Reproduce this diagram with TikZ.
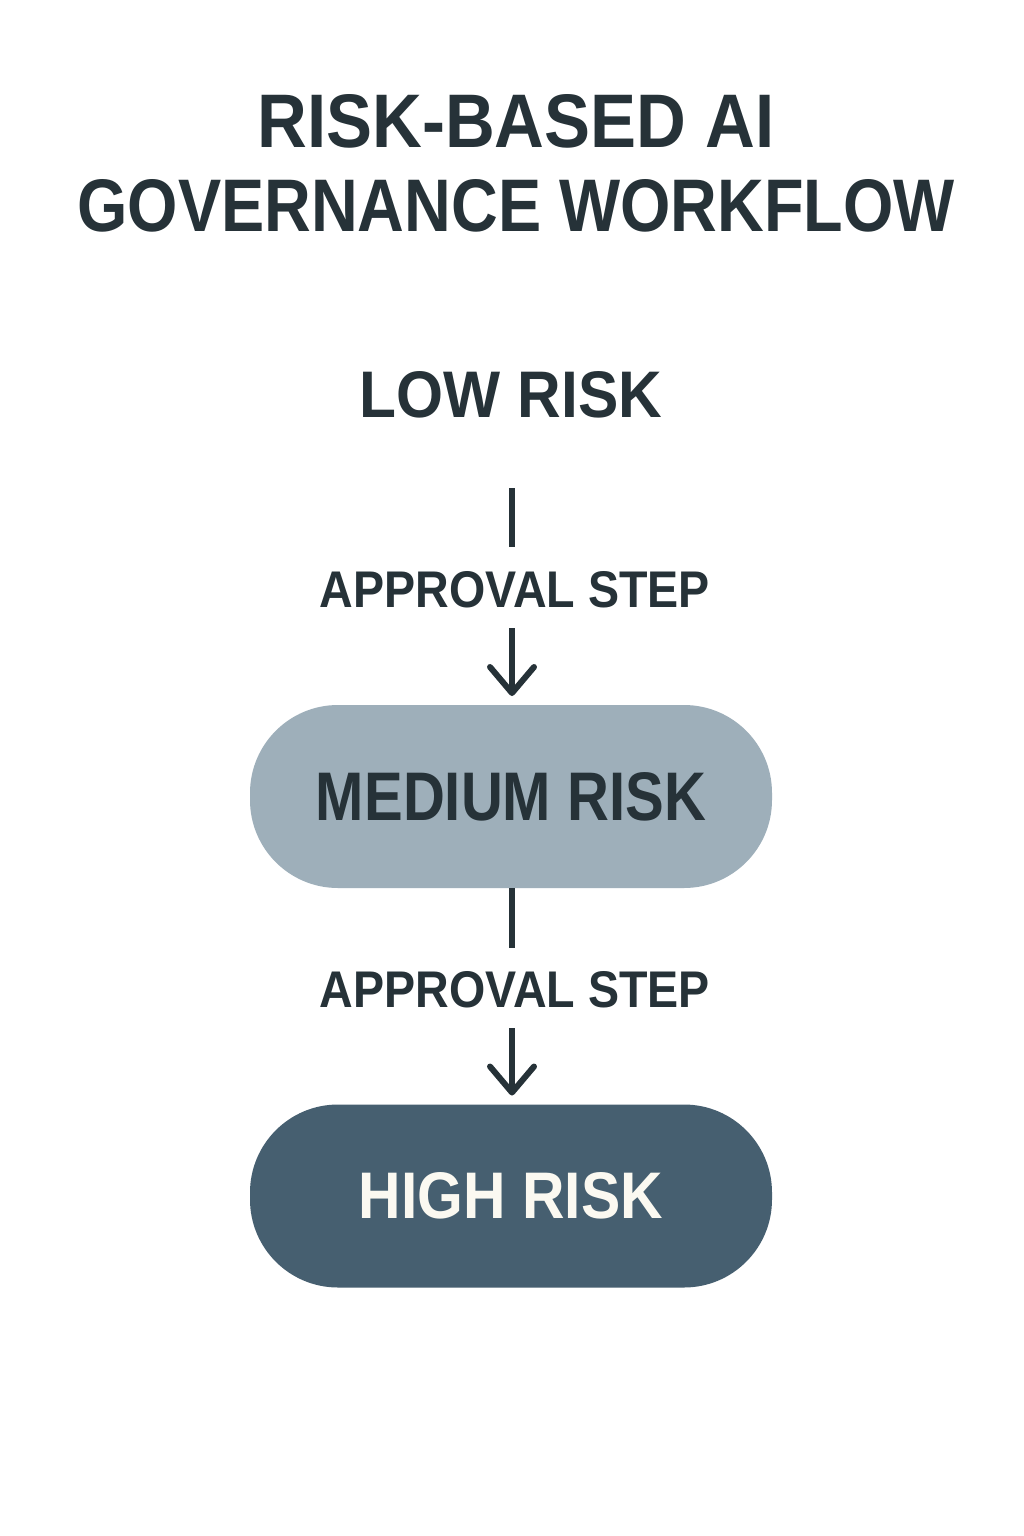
\documentclass[tikz,border=0pt]{standalone}
\usepackage{fontspec}
\usepackage{graphicx}
\setmainfont{Liberation Sans}
\usetikzlibrary{arrows.meta}
\definecolor{darktext}{HTML}{263238}
\definecolor{medfill}{HTML}{9EAFBA}
\definecolor{highfill}{HTML}{465F70}
\definecolor{hightext}{HTML}{FBF9F1}
\begin{document}
\begin{tikzpicture}[x=1pt,y=-1pt,
  lbl/.style={inner sep=0pt,outer sep=0pt,text=darktext,font=\bfseries},
  riskbox/.style={draw=none,rounded corners=88pt,minimum width=522pt,minimum height=183pt,inner sep=0pt,outer sep=0pt,font=\bfseries},
  conn/.style={draw=darktext,line width=6pt},
  arr/.style={conn,-{Straight Barb[length=26pt,width=44pt,round]}}
]
\useasboundingbox[fill=white] (0,0) rectangle (1024,1536);
\node[lbl] (t1) at (516,121) {\resizebox{517pt}{53pt}{RISK-BASED AI}};
\node[lbl] (t2) at (516,206) {\resizebox{877pt}{52pt}{GOVERNANCE WORKFLOW}};
\node[lbl] (low) at (511,395) {\resizebox{302pt}{46pt}{LOW RISK}};
\node[lbl] (ap1) at (515,590) {\resizebox{390pt}{36pt}{APPROVAL STEP}};
\node[riskbox,fill=medfill,text=darktext] (med) at (511,796.5) {\resizebox{390pt}{48pt}{MEDIUM RISK}};
\node[lbl] (ap2) at (515,990) {\resizebox{390pt}{36pt}{APPROVAL STEP}};
\node[riskbox,fill=highfill,text=hightext] (high) at (511,1196) {\resizebox{304pt}{46pt}{HIGH RISK}};
\draw[conn,shorten <=70pt,shorten >=25pt] (low.south -| 512,0) -- (ap1.north -| 512,0);
\draw[arr,shorten <=20pt,shorten >=9pt] (ap1.south -| 512,0) -- (med.north -| 512,0);
\draw[conn,shorten >=24pt] (med.south -| 512,0) -- (ap2.north -| 512,0);
\draw[arr,shorten <=20pt,shorten >=9pt] (ap2.south -| 512,0) -- (high.north -| 512,0);
\end{tikzpicture}
\end{document}
